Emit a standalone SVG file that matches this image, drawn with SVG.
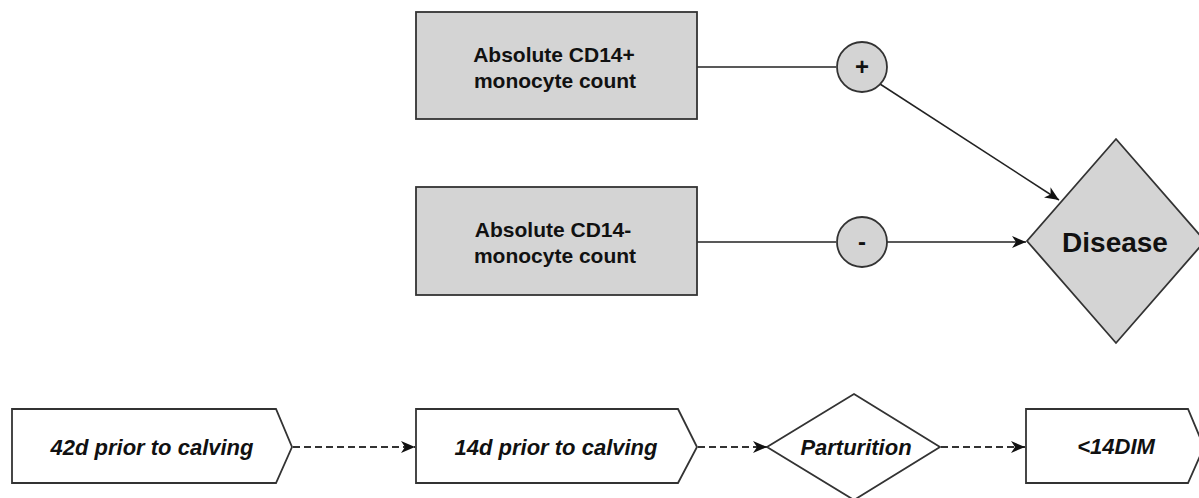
<svg xmlns="http://www.w3.org/2000/svg" width="1199" height="498" viewBox="0 0 1199 498">
<defs>
<style>
.g{fill:#d4d4d4;stroke:#333;stroke-width:1.8}
.w{fill:#fff;stroke:#333;stroke-width:1.8}
.t{font-family:"Liberation Sans",Arial,sans-serif;font-weight:bold;fill:#111;text-anchor:middle}
.ti{font-family:"Liberation Sans",Arial,sans-serif;font-weight:bold;font-style:italic;fill:#111;text-anchor:middle;font-size:22px}
.c{stroke:#222;stroke-width:1.5;fill:none}
.d{stroke:#333;stroke-width:1.8;fill:none;stroke-dasharray:7 4}
</style>
<marker id="ah" viewBox="0 0 14 12" refX="14" refY="6" markerWidth="14" markerHeight="12" markerUnits="userSpaceOnUse" orient="auto">
<path d="M0,0 L14,6 L0,12 L4,6 Z" fill="#111"/>
</marker>
</defs>
<rect width="1199" height="498" fill="#fff"/>
<g id="connectors">
<line class="c" x1="697" y1="67" x2="836" y2="67"/>
<line class="c" x1="880" y1="84" x2="1059" y2="200" marker-end="url(#ah)"/>
<line class="c" x1="697" y1="242" x2="836" y2="242"/>
<line class="c" x1="887" y1="242" x2="1026" y2="242" marker-end="url(#ah)"/>
<line class="d" x1="293" y1="447" x2="415" y2="447" marker-end="url(#ah)"/>
<line class="d" x1="698" y1="447" x2="767" y2="447" marker-end="url(#ah)"/>
<line class="d" x1="941" y1="447" x2="1025" y2="447" marker-end="url(#ah)"/>
</g>
<g id="cd14plus">
<rect class="g" x="416" y="12" width="281" height="107"/>
<text class="t" font-size="21" x="554" y="62">Absolute CD14+</text>
<text class="t" font-size="21" x="555" y="88">monocyte count</text>
</g>
<g id="cd14minus">
<rect class="g" x="416" y="187" width="281" height="108"/>
<text class="t" font-size="21" x="553" y="237">Absolute CD14-</text>
<text class="t" font-size="21" x="555" y="263">monocyte count</text>
</g>
<g id="plus">
<circle class="g" cx="862" cy="67" r="25"/>
<text class="t" font-size="24" x="862" y="75">+</text>
</g>
<g id="minus">
<circle class="g" cx="862" cy="242" r="25"/>
<text class="t" font-size="24" x="862" y="250">-</text>
</g>
<g id="disease">
<polygon class="g" points="1116,139 1205,241 1116,343 1027,241"/>
<text class="t" font-size="28" x="1115" y="252">Disease</text>
</g>
<g id="d42">
<polygon class="w" points="12,409 276,409 292,447 276,483 12,483"/>
<text class="ti" x="152" y="455">42d prior to calving</text>
</g>
<g id="d14">
<polygon class="w" points="416,409 678,409 697,447 678,483 416,483"/>
<text class="ti" x="556" y="455">14d prior to calving</text>
</g>
<g id="parturition">
<polygon class="w" points="854,394 940,447 854,500 767,447"/>
<text class="ti" x="856" y="455">Parturition</text>
</g>
<g id="dim14">
<polygon class="w" points="1026,409 1188,409 1204,447 1188,483 1026,483"/>
<text class="ti" x="1116" y="454">&lt;14DIM</text>
</g>
</svg>
